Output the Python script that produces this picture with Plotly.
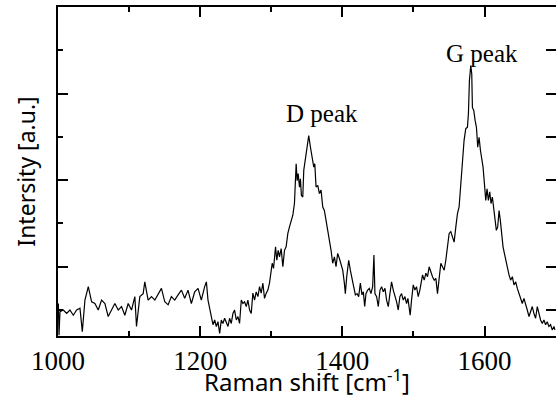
import plotly.graph_objects as go

# Raman shift (cm^-1) and intensity (a.u.)
shift = [
    1000.5, 1001.4, 1002.8, 1007.5, 1012.2, 1016.8, 1021.5, 1026.2, 1030.9, 1034.2,
    1037.9, 1042.6, 1047.3, 1051.9, 1056.6, 1061.3, 1066.0, 1070.6, 1075.3, 1080.0,
    1084.7, 1089.4, 1094.0, 1098.7, 1103.4, 1108.1, 1110.4, 1115.1, 1119.8, 1122.1,
    1126.8, 1131.5, 1136.2, 1140.8, 1145.5, 1150.2, 1154.9, 1159.5, 1164.2, 1168.9,
    1173.6, 1178.2, 1182.9, 1187.6, 1192.3, 1197.0, 1201.6, 1206.3, 1208.7, 1211.0,
    1215.7, 1218.0, 1220.4, 1222.7, 1225.0, 1227.4, 1229.7, 1232.0, 1234.4, 1236.7,
    1239.1, 1241.4, 1243.7, 1246.1, 1248.4, 1250.8, 1253.1, 1255.4, 1257.8, 1260.1,
    1262.5, 1264.8, 1267.1, 1269.5, 1271.8, 1274.1, 1276.5, 1278.8, 1281.2, 1283.5,
    1285.8, 1288.2, 1290.5, 1292.9, 1295.2, 1297.5, 1299.9, 1301.3, 1303.2, 1306.0,
    1307.8, 1309.7, 1311.6, 1313.9, 1316.3, 1318.6, 1320.9, 1323.3, 1325.6, 1327.9,
    1330.3, 1332.6, 1335.0, 1336.4, 1337.8, 1339.7, 1341.0, 1342.4, 1344.3, 1345.7,
    1348.1, 1350.4, 1352.7, 1355.1, 1357.4, 1359.8, 1361.2, 1363.0, 1365.4, 1367.7,
    1370.0, 1372.4, 1374.7, 1377.1, 1379.4, 1381.7, 1384.1, 1386.4, 1388.8, 1391.1,
    1393.4, 1395.8, 1398.1, 1400.5, 1402.8, 1404.2, 1406.1, 1408.9, 1411.2, 1413.6,
    1415.9, 1418.3, 1420.6, 1422.9, 1425.3, 1427.6, 1429.5, 1431.4, 1433.2, 1435.6,
    1437.9, 1440.2, 1442.6, 1444.4, 1445.8, 1448.2, 1450.5, 1452.9, 1455.2, 1457.5,
    1459.9, 1462.2, 1464.6, 1466.9, 1469.2, 1471.6, 1473.9, 1476.3, 1478.6, 1480.9,
    1483.3, 1485.6, 1488.0, 1490.3, 1492.2, 1494.0, 1495.4, 1497.3, 1499.7, 1502.0,
    1504.3, 1506.7, 1509.0, 1512.8, 1515.1, 1517.5, 1519.8, 1522.1, 1524.5, 1526.8,
    1529.2, 1531.5, 1533.8, 1536.2, 1538.5, 1540.8, 1543.2, 1545.5, 1547.9, 1550.2,
    1552.5, 1554.9, 1557.2, 1559.6, 1561.9, 1564.2, 1566.6, 1568.9, 1571.2, 1573.6,
    1575.9, 1577.3, 1578.7, 1580.6, 1582.0, 1582.9, 1584.8, 1586.7, 1588.6, 1590.4,
    1592.3, 1594.2, 1596.0, 1597.9, 1599.8, 1601.7, 1603.5, 1605.4, 1607.3, 1609.1,
    1611.0, 1612.9, 1614.8, 1616.6, 1618.5, 1620.4, 1622.2, 1624.1, 1626.0, 1627.9,
    1629.7, 1632.1, 1634.4, 1636.7, 1639.1, 1641.4, 1643.8, 1646.1, 1648.4, 1650.8,
    1653.1, 1655.4, 1657.8, 1660.1, 1662.5, 1664.8, 1667.1, 1669.5, 1671.8, 1674.2,
    1676.5, 1678.8, 1681.2, 1683.5, 1685.9, 1688.2, 1690.5, 1692.9, 1695.2, 1697.6,
    1699.0,
]
intensity = [
    1.15, 0.42, 0.96, 1.00, 0.92, 1.00, 0.88, 1.00, 1.04, 0.50,
    1.23, 1.54, 1.19, 1.15, 1.00, 1.23, 1.15, 0.85, 1.00, 1.15,
    1.00, 1.08, 0.88, 1.15, 1.00, 1.31, 0.62, 1.31, 1.38, 1.65,
    1.23, 1.31, 1.23, 1.38, 1.50, 1.19, 1.12, 1.31, 1.23, 1.35,
    1.46, 1.27, 1.46, 1.15, 1.42, 1.50, 1.23, 1.54, 1.65, 1.23,
    0.85, 0.66, 0.77, 0.62, 0.73, 0.46, 0.77, 0.69, 0.81, 0.73,
    0.62, 0.81, 0.69, 0.92, 1.00, 0.77, 0.85, 0.69, 1.23, 1.15,
    1.19, 1.08, 1.23, 1.00, 0.92, 1.39, 1.23, 1.42, 1.31, 1.54,
    1.39, 1.62, 1.27, 1.39, 1.46, 1.62, 1.85, 2.08, 1.96, 2.46,
    2.15, 2.38, 2.23, 2.42, 2.00, 2.38, 2.46, 2.77, 2.92, 3.08,
    3.19, 3.46, 4.38, 3.99, 4.15, 3.84, 4.03, 3.65, 3.61, 4.23,
    4.53, 4.76, 5.03, 4.76, 4.53, 4.30, 4.38, 3.84, 3.88, 3.69,
    3.77, 3.38, 3.30, 3.07, 2.92, 2.69, 2.38, 2.08, 2.23, 2.00,
    2.31, 2.19, 2.08, 1.92, 1.62, 1.38, 1.77, 2.15, 1.92, 1.69,
    1.54, 1.35, 1.38, 1.31, 1.62, 1.35, 1.42, 1.08, 1.38, 1.46,
    1.50, 1.38, 1.54, 2.27, 1.38, 1.31, 1.08, 1.46, 1.54, 1.42,
    1.50, 1.23, 1.08, 1.38, 1.65, 1.46, 1.35, 1.19, 1.00, 1.31,
    1.38, 1.23, 1.31, 1.15, 1.27, 1.04, 0.88, 1.23, 1.58, 1.46,
    1.54, 1.31, 1.46, 1.81, 1.69, 1.85, 1.77, 2.00, 1.85, 1.77,
    1.69, 1.73, 1.38, 1.69, 2.08, 2.00, 1.92, 2.15, 2.46, 2.77,
    2.81, 2.69, 2.57, 2.92, 3.23, 3.38, 3.92, 4.22, 4.92, 5.19,
    5.22, 5.53, 6.30, 6.65, 6.45, 5.68, 5.61, 5.38, 5.22, 4.76,
    4.99, 4.69, 4.46, 4.30, 3.92, 3.53, 3.80, 3.53, 3.73, 3.46,
    3.61, 3.30, 3.15, 2.84, 2.92, 3.30, 3.07, 2.69, 2.46, 2.31,
    2.15, 1.92, 1.81, 1.69, 1.77, 1.58, 1.65, 1.50, 1.38, 1.31,
    1.15, 1.27, 1.15, 1.00, 0.85, 0.96, 1.08, 0.92, 0.81, 1.08,
    0.92, 0.77, 0.69, 0.77, 0.66, 0.73, 0.62, 0.66, 0.54, 0.62,
    0.54,
]

peak_labels = ["D peak", "G peak"]
peak_x = [1372, 1597]
peak_y = [5.54, 6.92]

fig = go.Figure()
fig.add_trace(go.Scatter(x=shift, y=intensity, mode="lines",
                         line=dict(color="black", width=1.2), showlegend=False))

for lab, px, py in zip(peak_labels, peak_x, peak_y):
    fig.add_annotation(x=px, y=py, text=lab, showarrow=False,
                       font=dict(family="Liberation Serif", size=25, color="black"),
                       xanchor="center", yanchor="middle")

fig.update_xaxes(range=[1000, 1700.5], tick0=1000, dtick=200, automargin=False,
                 showline=True, linecolor="black", linewidth=1.5, mirror="ticks",
                 ticks="inside", tickcolor="black", tickwidth=1.5, ticklen=10,
                 showgrid=False, zeroline=False,
                 minor=dict(dtick=100, ticklen=5, tickcolor="black", ticks="inside", tickwidth=1.5),
                 tickfont=dict(family="Liberation Serif", size=27, color="black"),
                 title=dict(text="Raman shift [cm<sup>-1</sup>]",
                            font=dict(family="Noto Sans", size=24, color="black"), standoff=8))
fig.update_layout(
    yaxis=dict(range=[0.4, 8.0], tick0=0, dtick=2, showticklabels=False, automargin=False,
               showline=True, linecolor="black", linewidth=1.5, mirror=False,
               ticks="inside", tickcolor="black", tickwidth=1.5, ticklen=10,
               showgrid=False, zeroline=False,
               minor=dict(dtick=1, ticklen=5, tickcolor="black", ticks="inside", tickwidth=1.5),
               title=dict(text="Intersity [a.u.]",
                          font=dict(family="Noto Sans", size=23, color="black"), standoff=14)),
    yaxis2=dict(range=[0.4, 8.0], tick0=0, dtick=1, showticklabels=False, automargin=False,
                overlaying="y", side="right", showline=False,
                ticks="inside", tickcolor="black", tickwidth=1.5, ticklen=10,
                showgrid=False, zeroline=False),
)
# invisible trace so the right-hand tick axis is drawn
fig.add_trace(go.Scatter(x=[shift[0]], y=[intensity[0]], yaxis="y2", mode="lines",
                         line=dict(color="rgba(0,0,0,0)"), showlegend=False, hoverinfo="skip"))

fig.update_layout(width=556, height=398, autosize=False,
                  margin=dict(l=58, r=0, t=7, b=62),
                  paper_bgcolor="white", plot_bgcolor="white")

fig.write_html("out.html")
